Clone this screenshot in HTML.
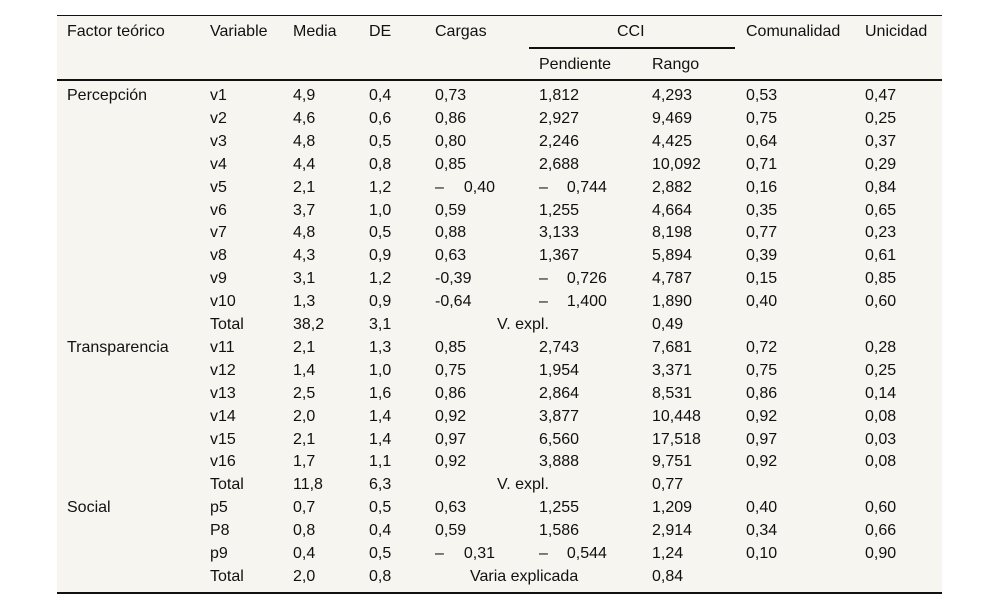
<!DOCTYPE html>
<html><head><meta charset="utf-8"><style>
body{margin:0;width:1000px;height:609px;background:#fff;position:relative;overflow:hidden;font-family:"Liberation Sans",sans-serif;font-size:16px;color:#111}
#bg{position:absolute;left:57px;top:15px;width:885px;height:578px;background:#f7f5f0}
.t{position:absolute;white-space:nowrap;line-height:18px}
.r{position:absolute;background:#111;left:57px;width:885px}
</style></head><body>
<div id="bg"></div>
<div class="r" style="top:15px;height:1px"></div>
<div class="r" style="top:79px;height:2px"></div>
<div class="r" style="top:592px;height:2px"></div>
<div class="r" style="top:47px;height:2px;left:529px;width:206px"></div>
<div id="tbl"></div>
<script>
const cols=[67,210,293,369,435,539,652,746,865];
const rows=[
["Percepción","v1","4,9","0,4","0,73","1,812","4,293","0,53","0,47"],
["","v2","4,6","0,6","0,86","2,927","9,469","0,75","0,25"],
["","v3","4,8","0,5","0,80","2,246","4,425","0,64","0,37"],
["","v4","4,4","0,8","0,85","2,688","10,092","0,71","0,29"],
["","v5","2,1","1,2","-0,40","-0,744","2,882","0,16","0,84"],
["","v6","3,7","1,0","0,59","1,255","4,664","0,35","0,65"],
["","v7","4,8","0,5","0,88","3,133","8,198","0,77","0,23"],
["","v8","4,3","0,9","0,63","1,367","5,894","0,39","0,61"],
["","v9","3,1","1,2","-0,39","-0,726","4,787","0,15","0,85"],
["","v10","1,3","0,9","-0,64","-1,400","1,890","0,40","0,60"],
["","Total","38,2","3,1","","","0,49","",""],
["Transparencia","v11","2,1","1,3","0,85","2,743","7,681","0,72","0,28"],
["","v12","1,4","1,0","0,75","1,954","3,371","0,75","0,25"],
["","v13","2,5","1,6","0,86","2,864","8,531","0,86","0,14"],
["","v14","2,0","1,4","0,92","3,877","10,448","0,92","0,08"],
["","v15","2,1","1,4","0,97","6,560","17,518","0,97","0,03"],
["","v16","1,7","1,1","0,92","3,888","9,751","0,92","0,08"],
["","Total","11,8","6,3","","","0,77","",""],
["Social","p5","0,7","0,5","0,63","1,255","1,209","0,40","0,60"],
["","P8","0,8","0,4","0,59","1,586","2,914","0,34","0,66"],
["","p9","0,4","0,5","-0,31","-0,544","1,24","0,10","0,90"],
["","Total","2,0","0,8","","","0,84","",""]
];
const body=document.body;
function add(txt,x,y,name){const d=document.createElement('div');d.className='t';d.style.left=x+'px';d.style.top=y+'px';d.innerHTML=txt;


body.appendChild(d);}
const hdr=["Factor teórico","Variable","Media","DE","Cargas","","","Comunalidad","Unicidad"];
hdr.forEach((h,i)=>{if(h)add(h,cols[i],23,'header-cell');});
add("CCI",617,23,'header-cci');
add("Pendiente",539,56,'header-pendiente');
add("Rango",652,56,'header-rango');
rows.forEach((r,i)=>{const y=Math.round(87+i*22.905);
r.forEach((v,j)=>{if(!v)return;let s=v;
if(v[0]=='-'&&(j==4||j==5)&&!(i==8&&j==4)&&!(i==9&&j==4)){s='–<span style="margin-left:'+(j==4?20:19)+'px">'+v.slice(1)+'</span>';}
add(s,cols[j],y,'table-cell');});
if(r[1]=="Total"){add(i==21?"Varia explicada":"V. expl.",i==21?470:497,y,'variance-label');}
});
</script>
</body></html>
